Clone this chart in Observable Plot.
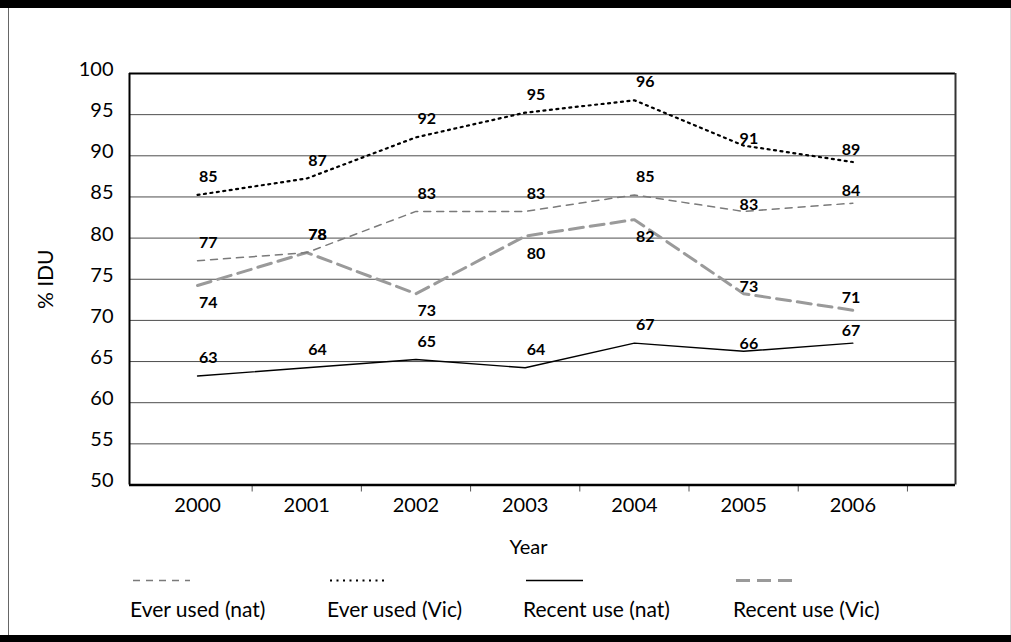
<!DOCTYPE html>
<html>
<head>
<meta charset="utf-8">
<script src="https://cdn.jsdelivr.net/npm/d3@7"></script>
<script src="https://cdn.jsdelivr.net/npm/@observablehq/plot@0.6"></script>
<style>
  html, body { margin: 0; padding: 0; background: #fff; }
  #page { position: relative; width: 1011px; height: 642px; overflow: hidden; background: #fff; font-family: Lato, sans-serif; }
  #chart { position: absolute; left: 0; top: 0; }
  .edge { position: absolute; }
</style>
</head>
<body>
<div id="page">
  <div id="chart"></div>
</div>
<script>
// ---- data ----
const years = [2000, 2001, 2002, 2003, 2004, 2005, 2006];
const everUsedNat = [77, 78, 83, 83, 85, 83, 84];
const everUsedVic = [85, 87, 92, 95, 96.5, 91, 89];
const recentUseNat = [63, 64, 65, 64, 67, 66, 67];
const recentUseVic = [74, 78, 73, 80, 82, 73, 71];
const seriesNames = ["Ever used (nat)", "Ever used (Vic)", "Recent use (nat)", "Recent use (Vic)"];
const yTicks = [50, 55, 60, 65, 70, 75, 80, 85, 90, 95, 100];
const xTitle = "Year";
const yTitle = "% IDU";

// ---- table built from the arrays ----
const seriesValues = [everUsedNat, everUsedVic, recentUseNat, recentUseVic];
const data = seriesNames.flatMap((s, i) =>
  years.map((year, j) => ({series: s, year, value: seriesValues[i][j]})));

const styles = {
  "Ever used (nat)":  {stroke: "#7a7a7a", strokeWidth: 1.5, strokeDasharray: "7,6"},
  "Ever used (Vic)":  {stroke: "#000000", strokeWidth: 2.2, strokeDasharray: "2,4.5"},
  "Recent use (nat)": {stroke: "#000000", strokeWidth: 1.4},
  "Recent use (Vic)": {stroke: "#9a9a9a", strokeWidth: 3, strokeDasharray: "14,7"}
};
const drawOrder = ["Recent use (Vic)", "Ever used (nat)", "Recent use (nat)", "Ever used (Vic)"];

// label placement (layout, in pixels)
function labelPlacement(d) {
  const below = d.series === "Recent use (Vic)" && d.year !== 2001 && d.year <= 2004;
  if (d.year <= 2004) return below ? [1.5, 15.5] : [1.5, -20];
  if (d.year === 2005) return [-4, -9];
  return [-11, -14.5];
}
const labelRows = data.map(d => ({...d, off: labelPlacement(d)}));
const labelGroups = d3.groups(labelRows, d => d.off.join(","));

const xDomain = [years[0] - 0.623, years[years.length - 1] + 0.94];
const halfTicks = years.map(y => y + 0.5);

const lineMarks = drawOrder.map(s =>
  Plot.line(data.filter(d => d.series === s), {x: "year", y: "value", dy: -2, ...styles[s]}));

const labelMarks = labelGroups.map(([k, rows]) =>
  Plot.text(rows, {
    x: "year", y: "value", text: d => String(Math.floor(d.value)),
    dx: rows[0].off[0], dy: rows[0].off[1],
    textAnchor: "start", fontSize: 16, fontWeight: "bold", fill: "#000"
  }));

const chartHeight = 575;
const chart = Plot.plot({
  width: 1011,
  height: chartHeight,
  marginTop: 73,
  marginBottom: chartHeight - 484.5,
  marginLeft: 129,
  marginRight: 56,
  style: {fontFamily: "Lato, sans-serif", color: "#000", background: "#fff"},
  x: {type: "linear", domain: xDomain},
  y: {domain: [50, 100]},
  marks: [
    Plot.ruleY(yTicks.filter(v => v > 50 && v < 100), {stroke: "#4d4d4d", strokeWidth: 1}),
    Plot.axisY(yTicks, {tickSize: 0, tickPadding: 16, fontSize: 20, dy: -4, label: null}),
    Plot.axisX(years, {tickSize: 0, tickPadding: 13, fontSize: 20, label: null, tickFormat: d => String(d)}),
    Plot.axisX(halfTicks, {tickSize: 7, tickFormat: () => "", label: null, stroke: "#555"}),
    ...lineMarks,
    ...labelMarks,
    Plot.ruleY([100], {stroke: "#000", strokeWidth: 2}),
    Plot.ruleX([xDomain[1]], {stroke: "#333", strokeWidth: 2}),
    Plot.ruleX([xDomain[0]], {stroke: "#000", strokeWidth: 2}),
    Plot.ruleY([50], {stroke: "#000", strokeWidth: 2.5}),
    Plot.text([xTitle], {text: d => d, frameAnchor: "bottom", textAnchor: "middle", dx: -14, dy: 55, lineAnchor: "top", fontSize: 20}),
    Plot.text([yTitle], {text: d => d, frameAnchor: "left", textAnchor: "middle", lineAnchor: "middle", dx: -83.5, rotate: -90, fontSize: 21})
  ]
});
document.getElementById("chart").appendChild(chart);

// ---- legend below the plot ----
const legendTop = chartHeight;
const legendX = [130, 327, 523, 733];
const legend = d3.create("svg")
  .attr("width", 1011).attr("height", 642 - legendTop)
  .style("position", "absolute").style("left", "0px").style("top", legendTop + "px")
  .style("font-family", "Lato, sans-serif");
seriesNames.forEach((s, i) => {
  const st = styles[s];
  legend.append("line")
    .attr("x1", legendX[i] + 3).attr("x2", legendX[i] + 60)
    .attr("y1", 580.5 - legendTop).attr("y2", 580.5 - legendTop)
    .attr("stroke", st.stroke).attr("stroke-width", st.strokeWidth)
    .attr("stroke-dasharray", st.strokeDasharray || null);
  legend.append("text")
    .attr("x", legendX[i]).attr("y", 617 - legendTop)
    .attr("font-size", 21).attr("fill", "#000")
    .text(s);
});
document.getElementById("page").appendChild(legend.node());

// ---- page edges ----
const page = document.getElementById("page");
[
  {left: 0, top: 0, width: 1011, height: 8, bg: "#000"},
  {left: 0, top: 635, width: 1011, height: 7, bg: "#000"},
  {left: 8, top: 8, width: 1, height: 627, bg: "#666"},
  {left: 1010, top: 8, width: 1, height: 627, bg: "#ddd"}
].forEach(e => {
  const div = document.createElement("div");
  div.className = "edge";
  Object.assign(div.style, {left: e.left + "px", top: e.top + "px", width: e.width + "px", height: e.height + "px", background: e.bg});
  page.appendChild(div);
});
</script>
</body>
</html>
